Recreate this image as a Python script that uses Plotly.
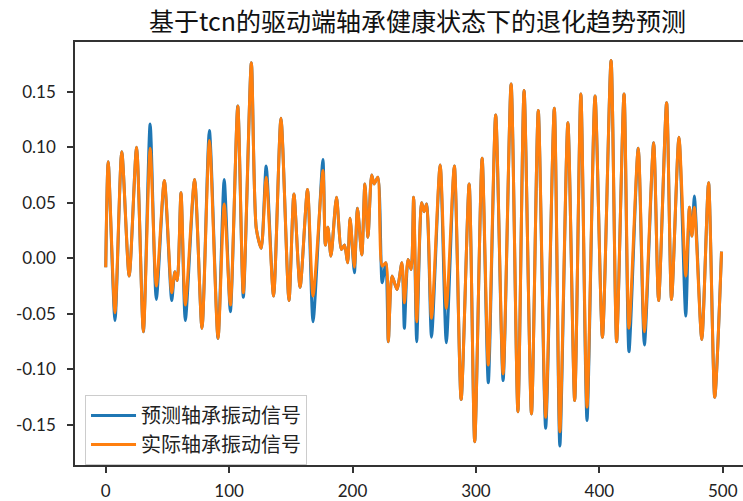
import plotly.graph_objects as go

# Sample positions of the local extrema
sample_idx = [0, 2, 7.5, 13, 19, 25, 30.5, 36, 41, 47.5, 53.5, 56, 58, 61, 64.5, 72, 78, 84, 91, 96,
              101, 107, 111.5, 118, 122, 126, 130, 136, 142, 148.5, 152.5, 157.5, 163.5, 168, 176, 178, 180, 182.5, 187, 191,
              193.5, 196, 198, 201.5, 204, 207.5, 210, 212.5, 215.5, 217.5, 220.5, 224, 227, 229, 232, 236, 240, 242, 245, 247.5,
              249.5, 252, 256, 258, 260, 264, 271, 276, 282.5, 288, 294.5, 299, 305, 310, 316, 322, 328.5, 334, 339, 345,
              350.5, 356.5, 363.5, 368, 374.5, 380, 385, 390, 396.5, 402.5, 409.5, 414, 420, 424, 431.5, 436.5, 444, 448, 454.5, 458.5,
              464.5, 470, 473, 475, 477, 483, 488.5, 493.5, 499]

predicted = [-0.008, 0.087, -0.056, 0.096, -0.016, 0.100, -0.066, 0.121, -0.037, 0.070, -0.038, -0.012, -0.020, 0.059, -0.056, 0.071, -0.063, 0.115, -0.072, 0.071,
             -0.048, 0.137, -0.035, 0.176, 0.027, 0.009, 0.083, -0.034, 0.126, -0.038, 0.058, -0.026, 0.062, -0.057, 0.089, 0.012, 0.028, 0.002, 0.055, 0.008,
             0.012, -0.004, 0.036, -0.013, 0.045, 0.003, 0.067, 0.019, 0.075, 0.067, 0.073, -0.022, -0.004, -0.075, -0.016, -0.028, -0.004, -0.063, -0.001, -0.010,
             0.055, -0.075, 0.050, 0.042, 0.049, -0.071, 0.084, -0.076, 0.083, -0.127, 0.067, -0.165, 0.090, -0.112, 0.129, -0.110, 0.157, -0.138, 0.151, -0.140,
             0.133, -0.153, 0.135, -0.169, 0.122, -0.128, 0.148, -0.146, 0.146, -0.071, 0.178, -0.075, 0.148, -0.084, 0.099, -0.078, 0.104, -0.038, 0.140, -0.037,
             0.109, -0.052, 0.046, 0.020, 0.056, -0.073, 0.068, -0.125, 0.006]

actual = [-0.008, 0.087, -0.049, 0.096, -0.016, 0.100, -0.066, 0.099, -0.025, 0.070, -0.031, -0.012, -0.020, 0.059, -0.042, 0.071, -0.063, 0.106, -0.072, 0.049,
          -0.042, 0.137, -0.031, 0.176, 0.027, 0.009, 0.073, -0.034, 0.126, -0.038, 0.058, -0.026, 0.062, -0.034, 0.079, 0.012, 0.028, 0.002, 0.055, 0.008,
          0.012, -0.004, 0.036, -0.008, 0.045, 0.003, 0.067, 0.019, 0.075, 0.067, 0.073, -0.007, -0.004, -0.075, -0.016, -0.028, -0.004, -0.040, -0.001, -0.010,
          0.055, -0.057, 0.050, 0.042, 0.049, -0.054, 0.084, -0.045, 0.083, -0.127, 0.067, -0.165, 0.090, -0.096, 0.129, -0.104, 0.157, -0.138, 0.151, -0.140,
          0.133, -0.143, 0.135, -0.156, 0.122, -0.128, 0.148, -0.134, 0.146, -0.071, 0.178, -0.075, 0.148, -0.063, 0.099, -0.066, 0.104, -0.038, 0.140, -0.037,
          0.109, -0.016, 0.046, 0.020, 0.046, -0.073, 0.068, -0.125, 0.006]

series_names = ["预测轴承振动信号", "实际轴承振动信号"]
x_ticks = [0, 100, 200, 300, 400, 500]
y_ticks = [-0.15, -0.10, -0.05, 0.00, 0.05, 0.10, 0.15]
y_tick_text = ["-0.15", "-0.10", "-0.05", "0.00", "0.05", "0.10", "0.15"]
title_text = "基于tcn的驱动端轴承健康状态下的退化趋势预测"

fig = go.Figure()
fig.add_trace(go.Scatter(x=sample_idx, y=predicted, mode="lines", name=series_names[0],
                         line=dict(color="#1f77b4", width=3, shape="spline", smoothing=0.7)))
fig.add_trace(go.Scatter(x=sample_idx, y=actual, mode="lines", name=series_names[1],
                         line=dict(color="#ff7f0e", width=3, shape="spline", smoothing=0.7)))

tick_font = dict(family="Lato, Open Sans, sans-serif", size=17, color="#222222")

fig.update_layout(
    width=743, height=501,
    margin=dict(l=75, r=0, t=42, b=29),
    paper_bgcolor="white", plot_bgcolor="white",
    title=dict(text=title_text, x=417.5 / 743, xanchor="center", xref="container",
               y=1 - 22 / 501, yanchor="middle", yref="container",
               font=dict(family="Noto Sans CJK SC", size=25, color="#111111")),
    showlegend=True,
    legend=dict(x=0.015, y=0.0, xanchor="left", yanchor="bottom",
                bgcolor="rgba(255,255,255,0.85)", bordercolor="#cccccc", borderwidth=1,
                font=dict(family="Noto Sans CJK SC", size=20, color="#222222"),
                itemwidth=45, tracegroupgap=0),
)
fig.update_xaxes(range=[-24.9, 516.4], tickvals=x_ticks, ticks="outside", ticklen=6, tickwidth=1.5,
                 tickcolor="#333333", showline=True, linecolor="#333333", linewidth=1.5, mirror=True,
                 showgrid=False, zeroline=False, tickfont=tick_font, ticklabelstandoff=4)
fig.update_yaxes(range=[-0.186, 0.1947], tickvals=y_ticks, ticktext=y_tick_text, ticks="outside", ticklen=6,
                 tickwidth=1.5, tickcolor="#333333", showline=True, linecolor="#333333", linewidth=1.5,
                 showgrid=False, zeroline=False, tickfont=tick_font, ticklabelstandoff=8)

fig.write_html("out.html")
